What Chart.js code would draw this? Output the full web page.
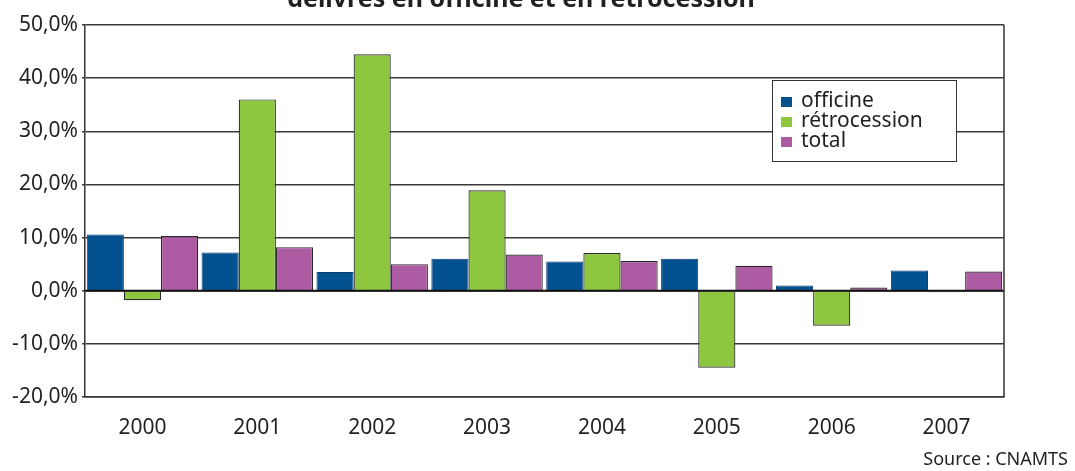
<!DOCTYPE html>
<html lang="fr">
<head>
<meta charset="utf-8">
<title>délivrés en officine et en rétrocession</title>
<script src="https://cdn.jsdelivr.net/npm/chart.js@4.4.1/dist/chart.umd.min.js"></script>
<style>
  html, body { margin: 0; padding: 0; background: #ffffff; overflow: hidden; }
  #wrap { position: relative; width: 1075px; height: 471px; }
</style>
</head>
<body>
<div id="wrap"><canvas id="chart" width="1075" height="471"></canvas></div>
<script>
// Years on the category axis
const years = ['2000', '2001', '2002', '2003', '2004', '2005', '2006', '2007'];

// Annual change (%) per channel
const officine     = [10.6, 7.2, 3.5, 6.0, 5.5, 6.0, 1.0, 3.8];
const retrocession = [-1.8, 36.0, 44.5, 18.9, 7.1, -14.5, -6.6, -0.3];
const total        = [10.3, 8.2, 5.0, 6.8, 5.6, 4.7, 0.6, 3.6];

// Value axis range
const yMin = -20;
const yMax = 50;
const yStep = 10;

const titleText = 'délivrés en officine et en rétrocession';
const sourceText = 'Source : CNAMTS';

const FONT = '"Noto Sans", "DejaVu Sans", sans-serif';
const INK = '#231f20';

function pct(v) {
  return v.toFixed(1).replace('.', ',') + '%';
}

// Title (partly above the canvas edge), frame, zero line, legend box and source line
const decorations = {
  id: 'decorations',
  afterDatasetsDraw(chart) {
    const { ctx, chartArea: a, scales } = chart;
    const y0 = scales.y.getPixelForValue(0);
    ctx.save();
    ctx.strokeStyle = '#111';
    ctx.lineWidth = 2;
    ctx.beginPath();
    ctx.moveTo(a.left, y0);
    ctx.lineTo(a.right, y0);
    ctx.stroke();
    ctx.strokeStyle = '#333';
    ctx.lineWidth = 1.5;
    ctx.beginPath();
    ctx.moveTo(a.right, a.top);
    ctx.lineTo(a.right, a.bottom);
    ctx.stroke();
    ctx.restore();
  },
  afterDraw(chart) {
    const { ctx } = chart;
    ctx.save();
    // title
    ctx.fillStyle = INK;
    ctx.font = 'bold 25px ' + FONT;
    ctx.textAlign = 'center';
    ctx.textBaseline = 'alphabetic';
    ctx.fillText(titleText, 521, 7);

    // legend
    const bx = 772, by = 80, bw = 184, bh = 81;
    ctx.fillStyle = '#ffffff';
    ctx.fillRect(bx, by, bw, bh);
    ctx.strokeStyle = '#333';
    ctx.lineWidth = 1;
    ctx.strokeRect(bx + 0.5, by + 0.5, bw, bh);
    ctx.font = '21px ' + FONT;
    ctx.textAlign = 'left';
    ctx.textBaseline = 'middle';
    chart.data.datasets.forEach((ds, i) => {
      const cy = by + 21 + i * 20;
      ctx.fillStyle = ds.backgroundColor;
      ctx.fillRect(bx + 9, cy - 4, 11, 10);
      ctx.fillStyle = INK;
      ctx.fillText(ds.label, bx + 29, cy);
    });

    // source
    ctx.font = '18px ' + FONT;
    ctx.textAlign = 'right';
    ctx.textBaseline = 'middle';
    ctx.fillStyle = INK;
    ctx.fillText(sourceText, 1068, 460);
    ctx.restore();
  }
};

new Chart(document.getElementById('chart'), {
  type: 'bar',
  data: {
    labels: years,
    datasets: [
      { label: 'officine', data: officine, backgroundColor: '#03518f', borderColor: '#0a3d6e', borderWidth: 1 },
      { label: 'rétrocession', data: retrocession, backgroundColor: '#8dc63f', borderColor: '#2a2a2a', borderWidth: 1.2 },
      { label: 'total', data: total, backgroundColor: '#ad5ba3', borderColor: '#2a2a2a', borderWidth: 1.2 }
    ]
  },
  options: {
    responsive: false,
    animation: false,
    devicePixelRatio: 1,
    layout: { padding: { top: 25, right: 71, bottom: 0, left: 0 } },
    datasets: { bar: { categoryPercentage: 0.97, barPercentage: 1.0 } },
    plugins: {
      legend: { display: false },
      title: { display: false },
      tooltip: { enabled: false }
    },
    scales: {
      x: {
        grid: { display: false },
        border: { display: true, color: '#333', width: 1.5 },
        ticks: { color: INK, font: { family: FONT, size: 21 }, padding: 10, maxRotation: 0 },
        afterFit(scale) { scale.height = 74; }
      },
      y: {
        min: yMin,
        max: yMax,
        ticks: {
          stepSize: yStep,
          color: INK,
          font: { family: FONT, size: 21 },
          padding: 4,
          callback: (v) => pct(v)
        },
        grid: { color: '#3a3a3a', lineWidth: 1.5, tickLength: 3 },
        border: { display: true, color: '#333', width: 1.5 },
        afterFit(scale) { scale.width = 85; }
      }
    }
  },
  plugins: [decorations]
});
</script>
</body>
</html>
